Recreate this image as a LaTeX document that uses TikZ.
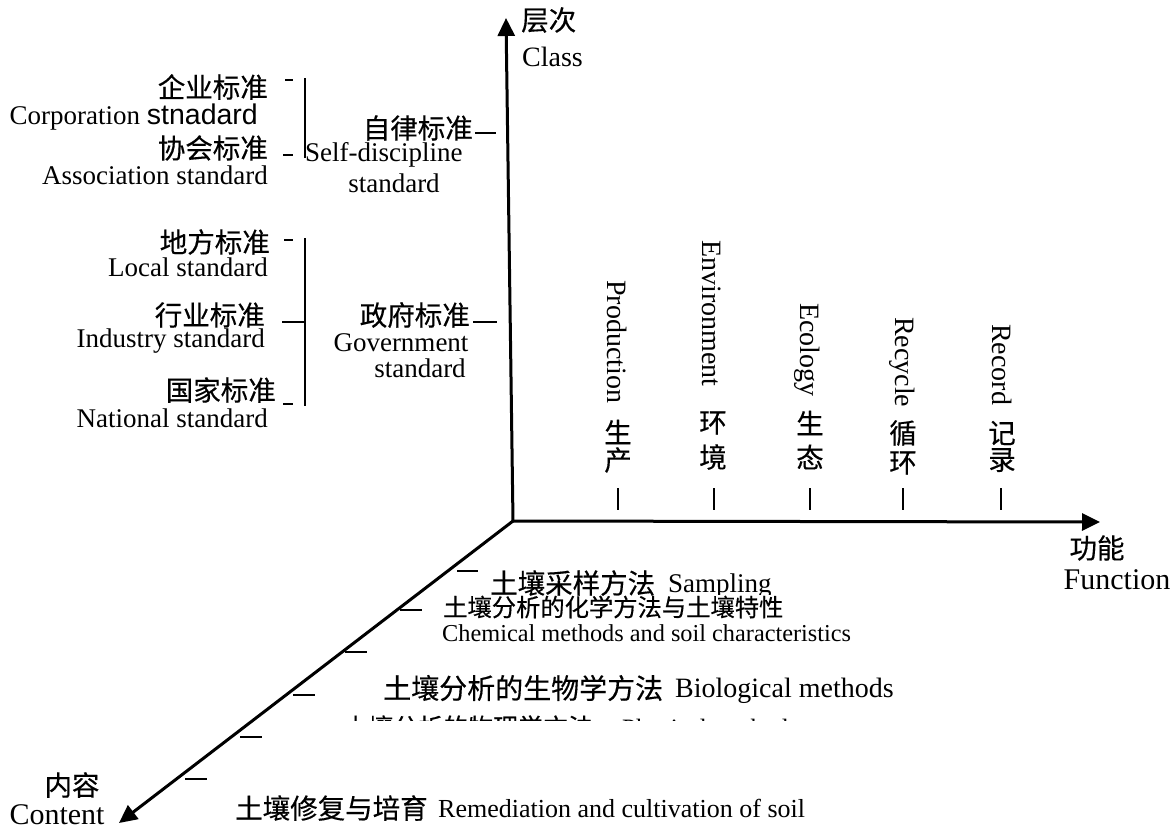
\documentclass[tikz,border=0pt]{standalone}
\usepackage{fontspec}
\setmainfont{Liberation Serif}
\newfontfamily\cjk[FakeBold=0.4]{Noto Sans CJK SC}
\newfontfamily\arialf{Liberation Sans}
\usetikzlibrary{arrows.meta}
\begin{document}
\begin{tikzpicture}[x=1pt,y=-1pt,
  en/.style={font=\fontsize{27}{29}\selectfont, inner sep=0pt},
  enrot/.style={font=\fontsize{28}{30}\selectfont, inner sep=0pt, rotate=-90, anchor=west},
  enbig/.style={font=\fontsize{30}{32}\selectfont, inner sep=0pt},
  zh/.style={font=\cjk\fontsize{27.5}{29}\selectfont, inner sep=0pt},
  axis/.style={line width=3pt, -{Triangle[length=18pt,width=17pt]}},
  tick/.style={line width=1.3pt},
  brk/.style={line width=1.3pt}]
\useasboundingbox (0,0) rectangle (1173,831);
\fill[white] (0,0) rectangle (1173,831);

% axes
\coordinate (O) at (513,521);
\coordinate (Yt) at (506,18);
\coordinate (Xt) at (1100,522);
\coordinate (Zt) at (119,823);
\draw[axis] (O) -- (Yt);
\draw[axis] (O) -- (Xt);
\draw[axis] (O) -- (Zt);

% axis labels
\node[zh, anchor=west] (cengci) at (521,20) {层次};
\node[en, anchor=west, font=\fontsize{28}{30}\selectfont] (class) at (522,57) {Class};
\node[zh] (gongneng) at (1097,548) {功能};
\node[enbig] (function) at (1117,580) {Function};
\node[zh] (neirong) at (72,785) {内容};
\node[enbig] (content) at (57,815) {Content};

% self-discipline group
\node[zh, anchor=east] (qiye) at (268,87) {企业标准};
\node[en, anchor=east] (corp) at (258,117) {Corporation {\arialf\fontsize{28.5}{30}\selectfont stnadard}};
\node[zh, anchor=east] (xiehui) at (268,148) {协会标准};
\node[en, anchor=east] (assoc) at (268,175) {Association standard};
\draw[tick] (285,80) -- (293,80);
\draw[tick] (283,155) -- (293,155);
\draw[brk] (305,78) -- (305,158);
\node[zh, anchor=east] (zilv) at (473,128) {自律标准};
\draw[tick] (475,133) -- (496,133);
\node[en, anchor=west] (selfd) at (305,155) {Self-discipline};
\node[en] (selfs) at (394,183) {standard};

% government group
\node[zh, anchor=east] (difang) at (270,242) {地方标准};
\node[en, anchor=east] (local) at (268,267) {Local standard};
\node[zh, anchor=east] (hangye) at (265,315) {行业标准};
\node[en, anchor=east] (industry) at (265,341) {Industry standard};
\node[zh, anchor=east] (guojia) at (276,390) {国家标准};
\node[en, anchor=east] (national) at (268,418) {National standard};
\draw[tick] (284,240) -- (293,240);
\draw[tick] (282,322) -- (305,322);
\draw[tick] (283,404) -- (293,404);
\draw[brk] (305,238) -- (305,406);
\node[zh, anchor=east] (zhengfu) at (470,315) {政府标准};
\draw[tick] (473,322) -- (497,322);
\node[en] (govt) at (401,343) {Government};
\node[en] (govs) at (420,368) {standard};

% function columns
\node[enrot] (prodE) at (617,280) {Production};
\node[zh] (prodZa) at (618,432) {生};
\node[zh] (prodZb) at (618,460) {产};
\draw[tick] (618,488) -- (618,510);

\node[enrot] (envE) at (712,240) {Environment};
\node[zh] (envZa) at (713,423) {环};
\node[zh] (envZb) at (713,457) {境};
\draw[tick] (714,488) -- (714,510);

\node[enrot] (ecoE) at (807,303) {Ecology};
\node[zh] (ecoZa) at (810,423) {生};
\node[zh] (ecoZb) at (810,457) {态};
\draw[tick] (810,488) -- (810,510);

\node[enrot] (recE) at (902,317) {Recycle};
\node[zh] (recZa) at (903,433) {循};
\node[zh] (recZb) at (903,463) {环};
\draw[tick] (903,488) -- (903,510);

\node[enrot] (rcdE) at (1002,324) {Record};
\node[zh] (rcdZa) at (1002,433) {记};
\node[zh] (rcdZb) at (1002,460) {录};
\draw[tick] (1001,488) -- (1001,510);

% content ticks
\draw[tick] (457,571) -- (478,571);
\draw[tick] (400,610) -- (422,610);
\draw[tick] (345,652) -- (367,652);
\draw[tick] (293,695) -- (315,695);
\draw[tick] (240,737) -- (262,737);
\draw[tick] (185,779) -- (207,779);

% content texts
\node[zh, anchor=west] (c1z) at (490,583) {土壤采样方法};
\begin{scope}
\clip (660,560) rectangle (800,594);
\node[en, anchor=base west] (c1e) at (668,592) {Sampling};
\end{scope}
\node[zh, anchor=west, font=\cjk\fontsize{24.3}{26}\selectfont] (c2z) at (443,607) {土壤分析的化学方法与土壤特性};
\node[en, anchor=west, font=\fontsize{24.3}{26}\selectfont] (c2e) at (442,633) {Chemical methods and soil characteristics};
\node[zh, anchor=west, font=\cjk\fontsize{28}{30}\selectfont] (c3z) at (383,688) {土壤分析的生物学方法};
\node[en, anchor=base west, font=\fontsize{28}{30}\selectfont] (c3e) at (675,697) {Biological methods};
\begin{scope}
\clip (300,700) rectangle (850,720);
\node[zh, anchor=west, font=\cjk\fontsize{25}{27}\selectfont] (c4z) at (343,727) {土壤分析的物理学方法};
\node[en, anchor=base west, font=\fontsize{25}{27}\selectfont] (c4e) at (622,736) {Physical methods};
\end{scope}
\node[zh, anchor=west] (c6z) at (235,808) {土壤修复与培育};
\node[en, anchor=base west, font=\fontsize{26}{28}\selectfont] (c6e) at (438,817) {Remediation and cultivation of soil};
\end{tikzpicture}
\end{document}
